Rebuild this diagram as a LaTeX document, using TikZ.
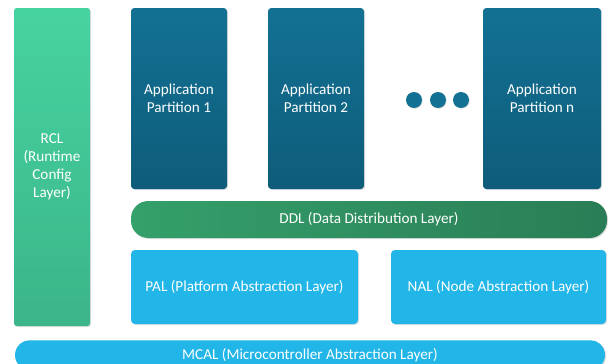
\documentclass[tikz,border=0pt]{standalone}
\usepackage{fontspec}
\setmainfont{Carlito}
\usetikzlibrary{shadows}

\definecolor{rclgreen}{RGB}{71,211,160}
\definecolor{rclgreendk}{RGB}{59,181,137}
\definecolor{apptop}{RGB}{19,113,147}
\definecolor{appbot}{RGB}{14,92,122}
\definecolor{ddlleft}{RGB}{52,160,106}
\definecolor{ddlright}{RGB}{42,125,86}
\definecolor{halblue}{RGB}{34,181,232}

\tikzset{
  layer/.style={rectangle, text=white, align=center, font=\fontsize{11.4}{13.5}\selectfont,
    drop shadow={shadow xshift=0.8pt, shadow yshift=-0.8pt, opacity=0.25}},
  rclbox/.style={layer, rounded corners=2pt, top color=rclgreen, bottom color=rclgreendk},
  appbox/.style={layer, rounded corners=2.5pt, top color=apptop, bottom color=appbot},
  ddlbox/.style={layer, rounded corners=13pt, left color=ddlleft, right color=ddlright},
  halbox/.style={layer, rounded corners=3pt, fill=halblue},
  dot/.style={circle, minimum size=12pt, inner sep=0pt, fill=apptop,
    drop shadow={shadow xshift=0.6pt, shadow yshift=-0.6pt, opacity=0.25}}
}

\begin{document}
\begin{tikzpicture}[x=0.75pt,y=-0.75pt]
\useasboundingbox (0,0) rectangle (608,364);
\clip (0,0) rectangle (608,364);

% runtime config layer
\node[rclbox, minimum width=57pt, minimum height=238.5pt] (rcl) at (52,167)
  {RCL\\(Runtime\\Config\\Layer)};

% application partitions
\node[appbox, minimum width=72pt, minimum height=135.75pt] (app1) at (179,98.5)
  {Application\\Partition 1};
\node[appbox, minimum width=72pt, minimum height=135.75pt] (app2) at (316,98.5)
  {Application\\Partition 2};
\node[appbox, minimum width=88.5pt, minimum height=135.75pt] (appn) at (542,98.5)
  {Application\\Partition n};
\foreach \i/\x in {1/414,2/438,3/461}
  \node[dot] (dot\i) at (\x,100) {};

% data distribution
\node[ddlbox, minimum width=357pt, minimum height=27.75pt] (ddl) at (369,219.5)
  {DDL (Data Distribution Layer)};

% abstraction layers
\node[halbox, minimum width=170.25pt, minimum height=55.5pt] (pal) at (244.5,287)
  {PAL (Platform Abstraction Layer)};
\node[halbox, minimum width=161.25pt, minimum height=55.5pt] (nal) at (498.5,287)
  {NAL (Node Abstraction Layer)};
\node[halbox, rounded corners=11pt, minimum width=442.5pt, minimum height=22pt] (mcal) at (310,355)
  {MCAL (Microcontroller Abstraction Layer)};
\end{tikzpicture}
\end{document}
